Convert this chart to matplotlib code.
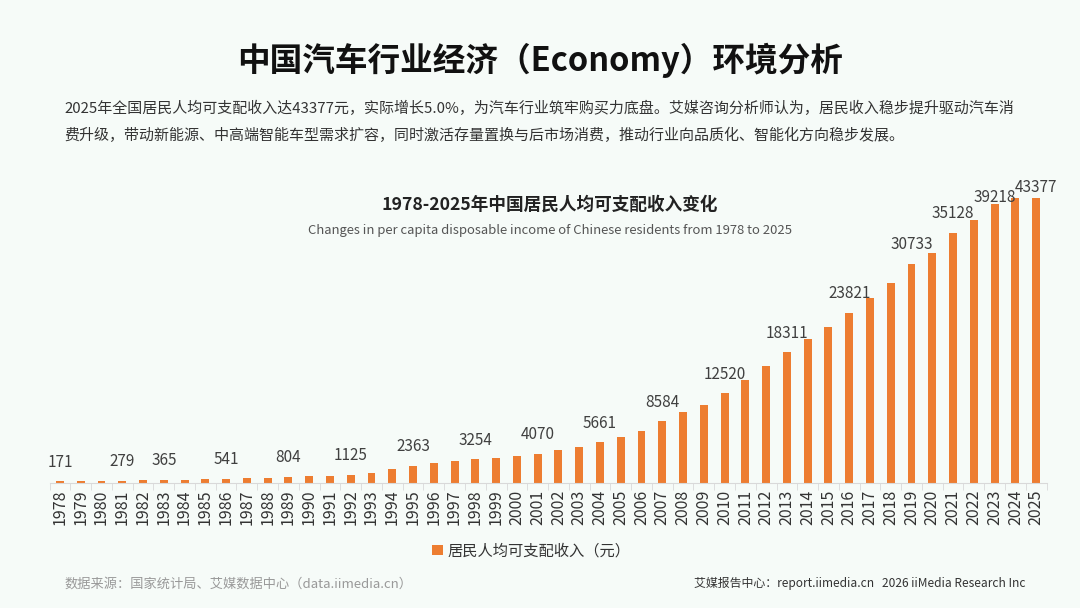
import matplotlib
matplotlib.use('Agg')
import matplotlib.pyplot as plt
import numpy as np

plt.rcParams['font.family'] = ['Noto Sans CJK SC', 'DejaVu Sans']

years = list(range(1978, 2026))
income = [171, 200, 240, 279, 320, 365, 420, 480, 541, 600,
          700, 804, 880, 960, 1125, 1400, 1950, 2363, 2800, 3000,
          3254, 3500, 3700, 4070, 4500, 5000, 5661, 6350, 7300, 8584,
          9900, 10900, 12520, 14400, 16400, 18311, 20200, 21900, 23821, 26000,
          28100, 30733, 32200, 35128, 36900, 39218, 41300, 43377]
labeled_years = [1978, 1981, 1983, 1986, 1989, 1992, 1995, 1998, 2001, 2004,
                 2007, 2010, 2013, 2016, 2019, 2021, 2023, 2025]

title = '中国汽车行业经济（Economy）环境分析'
intro = ['2025年全国居民人均可支配收入达43377元，实际增长5.0%，为汽车行业筑牢购买力底盘。艾媒咨询分析师认为，居民收入稳步提升驱动汽车消',
         '费升级，带动新能源、中高端智能车型需求扩容，同时激活存量置换与后市场消费，推动行业向品质化、智能化方向稳步发展。']
chart_title = '1978-2025年中国居民人均可支配收入变化'
chart_sub = 'Changes in per capita disposable income of Chinese residents from 1978 to 2025'
legend_label = '居民人均可支配收入（元）'
source = '数据来源：国家统计局、艾媒数据中心（data.iimedia.cn）'
credit = '艾媒报告中心：report.iimedia.cn   2026 iiMedia Research Inc'

bar_color = '#ED7D31'
y_max = 40000

fig = plt.figure(figsize=(10.8, 6.08), dpi=100)
fig.patch.set_facecolor('#f6fbf8')

fig.text(0.5, 0.901, title, ha='center', va='center', fontsize=23.5,
         fontweight='bold', color='#111111')
fig.text(0.060, 0.822, intro[0], ha='left', va='center', fontsize=10.8, color='#333333')
fig.text(0.060, 0.778, intro[1], ha='left', va='center', fontsize=10.8, color='#333333')
fig.text(0.509, 0.664, chart_title, ha='center', va='center', fontsize=12.7,
         fontweight='bold', color='#222222')
fig.text(0.509, 0.621, chart_sub, ha='center', va='center', fontsize=9.4, color='#555555')

ax = fig.add_axes([0.0459, 0.2064, 0.9231, 0.468])
ax.set_facecolor('none')
x = np.arange(len(years))
ax.bar(x, income, width=0.38, color=bar_color, label=legend_label, zorder=2)
ax.set_xlim(-0.5, len(years) - 0.5)
ax.set_ylim(0, y_max)

# data labels: bars that fit keep their label under the frame top,
# the one bar running past the frame gets its label just above it
for i, (yr, v) in enumerate(zip(years, income)):
    if yr in labeled_years:
        if v > y_max and yr == years[-1]:
            ypos = 41470
        else:
            ypos = min(v + 2680, 40050)
        ax.text(i, ypos, str(v), ha='center', va='center', fontsize=11,
                color='#404040', clip_on=False, zorder=3)

for s in ['top', 'right', 'left']:
    ax.spines[s].set_visible(False)
ax.spines['bottom'].set_color('#d9d9d9')
ax.set_yticks([])
ax.set_xticks(x)
ax.set_xticklabels([str(y) for y in years], rotation=90, fontsize=11.5, color='#333333')
ax.tick_params(axis='x', length=0, pad=5)
ax.set_xticks(np.arange(-0.5, len(years), 1), minor=True)
ax.tick_params(axis='x', which='minor', length=5, color='#d9d9d9')

leg = fig.legend(loc='center', bbox_to_anchor=(0.492, 0.094), frameon=False,
                 fontsize=11, handlelength=0.7, handleheight=0.7, handletextpad=0.3)
for t in leg.get_texts():
    t.set_color('#333333')

fig.text(0.060, 0.040, source, ha='left', va='center', fontsize=9.5, color='#999999')
fig.text(0.950, 0.040, credit, ha='right', va='center', fontsize=8.6, color='#333333')

fig.savefig('out.png', dpi=100, facecolor=fig.get_facecolor())
